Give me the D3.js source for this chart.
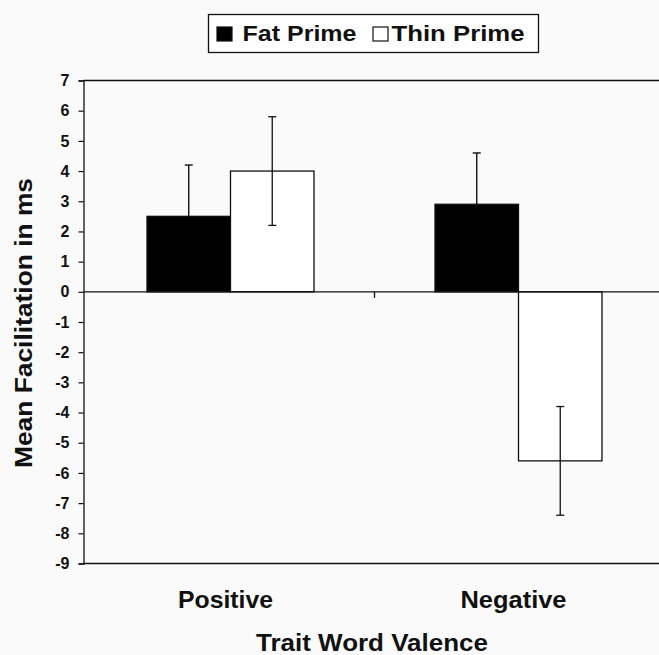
<!DOCTYPE html>
<html>
<head>
<meta charset="utf-8">
<script src="https://cdn.jsdelivr.net/npm/d3@7"></script>
<style>
    body { margin: 0; background: #fafafa; }
    svg { display: block; font-family: "Liberation Sans", Arial, sans-serif; font-weight: bold; }
</style>
</head>
<body>
<svg width="659" height="655"></svg>
<script>
// Chart data
var categories = ["Positive", "Negative"];
var seriesNames = ["Fat Prime", "Thin Prime"];
var fatValues = [2.5, 2.9];
var thinValues = [4.0, -5.6];
var fatErrors = [1.7, 1.7];
var thinErrors = [1.8, 1.8];
var yTicks = [7, 6, 5, 4, 3, 2, 1, 0, -1, -2, -3, -4, -5, -6, -7, -8, -9];

var svg = d3.select("svg"),
    width = +svg.attr("width"),
    height = +svg.attr("height");

var plotLeft = 83.5, plotTop = 80.5, plotBottom = 563.5;
var ink = "#111";

var y = d3.scaleLinear().domain([-9, 7]).range([plotBottom, plotTop]);
var x0 = d3.scaleBand().domain(categories).range([86.5, 662.5]).padding(0);
var x1 = d3.scaleBand().domain(seriesNames)
    .range([x0.bandwidth() / 2 - 83.5, x0.bandwidth() / 2 + 83.5]).padding(0);

// Build rows from the arrays
var rows = [];
for (var i = 0; i < categories.length; i++) {
    rows.push({cat: categories[i], series: seriesNames[0], value: fatValues[i], err: fatErrors[i], fill: "#000"});
    rows.push({cat: categories[i], series: seriesNames[1], value: thinValues[i], err: thinErrors[i], fill: "#fff"});
}

// Frame lines (top and bottom)
svg.append("line").attr("x1", plotLeft).attr("x2", width)
    .attr("y1", plotTop).attr("y2", plotTop).attr("stroke", ink).attr("stroke-width", 1.3);
svg.append("line").attr("x1", plotLeft).attr("x2", width)
    .attr("y1", plotBottom).attr("y2", plotBottom).attr("stroke", ink).attr("stroke-width", 1.3);

// Y axis (plain hyphen for negatives, like the original)
var yAxis = d3.axisLeft(y).tickValues(yTicks).tickSize(5).tickPadding(9)
    .tickFormat(function(d) { return String(d); });
var yg = svg.append("g").attr("transform", "translate(" + plotLeft + ",0)").call(yAxis);
yg.select(".domain").attr("stroke", ink).attr("stroke-width", 1.3);
yg.selectAll(".tick line").attr("stroke", ink).attr("stroke-width", 1.2);
yg.selectAll(".tick text").attr("fill", ink).style("font-size", "16px")
    .style("font-family", "'Liberation Sans', Arial, sans-serif").style("font-weight", "bold");

// Bars
svg.append("g").selectAll("rect")
    .data(rows)
    .enter().append("rect")
    .attr("x", function(d) { return x0(d.cat) + x1(d.series); })
    .attr("width", x1.bandwidth())
    .attr("y", function(d) { return y(Math.max(0, d.value)); })
    .attr("height", function(d) { return Math.abs(y(d.value) - y(0)); })
    .attr("fill", function(d) { return d.fill; })
    .attr("stroke", ink)
    .attr("stroke-width", 1.3);

// Zero line with category divider tick
svg.append("line").attr("x1", plotLeft).attr("x2", width)
    .attr("y1", y(0)).attr("y2", y(0)).attr("stroke", ink).attr("stroke-width", 1.3);
svg.append("line")
    .attr("x1", x0("Negative")).attr("x2", x0("Negative"))
    .attr("y1", y(0)).attr("y2", y(0) + 6)
    .attr("stroke", ink).attr("stroke-width", 1.3);

// Error bars (black on the black bars, so the lower half vanishes)
var errG = svg.append("g").attr("stroke-width", 1.3);
rows.forEach(function(d) {
    var cx = x0(d.cat) + x1(d.series) + x1.bandwidth() / 2;
    var lo = y(d.value - d.err), hi = y(d.value + d.err);
    var c = d.fill === "#000" ? "#000" : ink;
    errG.append("line").attr("stroke", c).attr("x1", cx).attr("x2", cx).attr("y1", lo).attr("y2", hi);
    errG.append("line").attr("stroke", c).attr("x1", cx - 4).attr("x2", cx + 4).attr("y1", lo).attr("y2", lo);
    errG.append("line").attr("stroke", c).attr("x1", cx - 4).attr("x2", cx + 4).attr("y1", hi).attr("y2", hi);
});

// Category labels
svg.append("g").selectAll("text")
    .data(categories)
    .enter().append("text")
    .attr("x", function(d) { return x0(d) + x0.bandwidth() / 2 - 5; })
    .attr("y", 608)
    .attr("text-anchor", "middle")
    .attr("fill", ink)
    .style("font-size", "23px")
    .attr("textLength", function(d) { return d === "Positive" ? 95 : 106; })
    .attr("lengthAdjust", "spacingAndGlyphs")
    .text(function(d) { return d; });

// Axis titles
svg.append("text")
    .attr("x", 372).attr("y", 651)
    .attr("text-anchor", "middle")
    .attr("fill", ink)
    .style("font-size", "23px")
    .attr("textLength", 232)
    .attr("lengthAdjust", "spacingAndGlyphs")
    .text("Trait Word Valence");

svg.append("text")
    .attr("transform", "translate(32,323) rotate(-90)")
    .attr("text-anchor", "middle")
    .attr("fill", ink)
    .style("font-size", "24px")
    .attr("textLength", 290)
    .attr("lengthAdjust", "spacingAndGlyphs")
    .text("Mean Facilitation in ms");

// Legend
var legend = svg.append("g");
legend.append("rect").attr("x", 208.5).attr("y", 14.5).attr("width", 330).attr("height", 38)
    .attr("fill", "#fff").attr("stroke", ink).attr("stroke-width", 1.3);
var legendItems = [
    {name: seriesNames[0], fill: "#000", sx: 217, tx: 242.5, len: 114},
    {name: seriesNames[1], fill: "#fff", sx: 373, tx: 391.5, len: 133}
];
legendItems.forEach(function(d) {
    legend.append("rect").attr("x", d.sx).attr("y", 27).attr("width", 15).attr("height", 14)
        .attr("fill", d.fill).attr("stroke", ink).attr("stroke-width", 1.2);
    legend.append("text").attr("x", d.tx).attr("y", 41)
        .attr("fill", ink)
        .style("font-size", "22px")
        .attr("textLength", d.len)
        .attr("lengthAdjust", "spacingAndGlyphs")
        .text(d.name);
});
</script>
</body>
</html>
